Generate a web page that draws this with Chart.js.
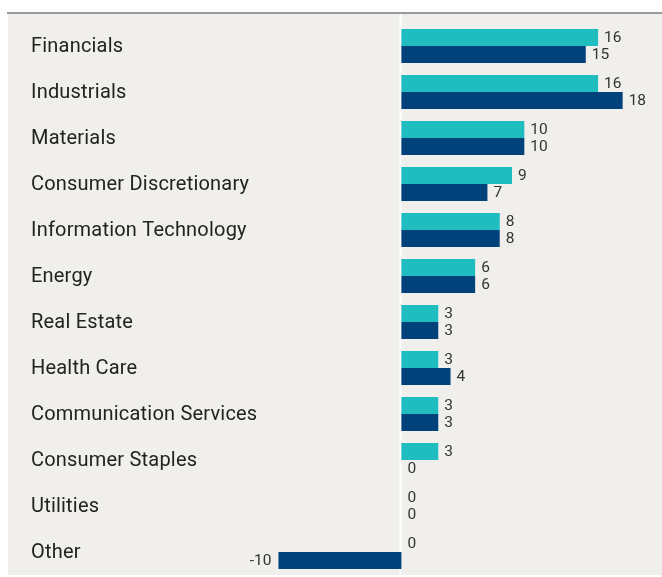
<!DOCTYPE html>
<html>
<head>
<meta charset="utf-8">
<script src="https://cdn.jsdelivr.net/npm/chart.js@4"></script>
<style>
  html, body { margin: 0; padding: 0; background: #fff; }
  #wrap { width: 662px; height: 577px; position: relative; }
</style>
</head>
<body>
<div id="wrap"><canvas id="sectorChart"></canvas></div>
<script>
const categories = ['Financials', 'Industrials', 'Materials', 'Consumer Discretionary',
  'Information Technology', 'Energy', 'Real Estate', 'Health Care',
  'Communication Services', 'Consumer Staples', 'Utilities', 'Other'];
const seriesA = [16, 16, 10, 9, 8, 6, 3, 3, 3, 3, 0, 0];
const seriesB = [15, 18, 10, 7, 8, 6, 3, 4, 3, 0, 0, -10];

const TEAL = '#1fbcc0';
const NAVY = '#02427a';
const BG = '#f0efeb';

// background, top rule and zero line
const backdrop = {
  id: 'backdrop',
  beforeDraw(chart) {
    const ctx = chart.ctx;
    const x0 = chart.scales.x.getPixelForValue(0);
    ctx.save();
    ctx.fillStyle = BG;
    ctx.fillRect(8, 14, chart.width - 8, chart.height - 16);
    ctx.fillStyle = '#9a9a9a';
    ctx.fillRect(7, 12, chart.width - 7, 2);
    ctx.fillStyle = '#ffffff';
    ctx.fillRect(x0 - 2, 14, 2, chart.height - 14);
    ctx.restore();
  }
};

// category names on the left and values next to bars
const labels = {
  id: 'labels',
  afterDatasetsDraw(chart) {
    const ctx = chart.ctx;
    const yScale = chart.scales.y;
    ctx.save();
    ctx.fillStyle = '#222';
    ctx.font = '20px Roboto';
    ctx.letterSpacing = '0.2px';
    ctx.textAlign = 'left';
    ctx.textBaseline = 'middle';
    categories.forEach((c, i) => {
      ctx.fillText(c, 31, yScale.getPixelForValue(i) + 1);
    });
    ctx.letterSpacing = '0px';
    ctx.font = '15.5px Roboto';
    ctx.fillStyle = '#333';
    chart.data.datasets.forEach((ds, di) => {
      chart.getDatasetMeta(di).data.forEach((bar, i) => {
        const v = ds.data[i];
        if (v < 0) {
          ctx.textAlign = 'right';
          ctx.fillText(String(v), bar.x - 7, bar.y + 1);
        } else {
          ctx.textAlign = 'left';
          ctx.fillText(String(v), bar.x + 6, bar.y + 1);
        }
      });
    });
    ctx.restore();
  }
};

new Chart(document.getElementById('sectorChart'), {
  type: 'bar',
  data: {
    labels: categories,
    datasets: [
      { label: 'Series A', data: seriesA, backgroundColor: TEAL },
      { label: 'Series B', data: seriesB, backgroundColor: NAVY }
    ]
  },
  options: {
    indexAxis: 'y',
    responsive: true,
    maintainAspectRatio: false,
    animation: false,
    layout: { padding: { left: 8, top: 23, right: 0, bottom: 2 } },
    datasets: {
      bar: { categoryPercentage: 0.74, barPercentage: 1.0 }
    },
    plugins: {
      legend: { display: false },
      tooltip: { enabled: false }
    },
    scales: {
      x: { display: false, min: -32, max: 21.2 },
      y: { display: false }
    }
  },
  plugins: [backdrop, labels]
});
</script>
</body>
</html>
